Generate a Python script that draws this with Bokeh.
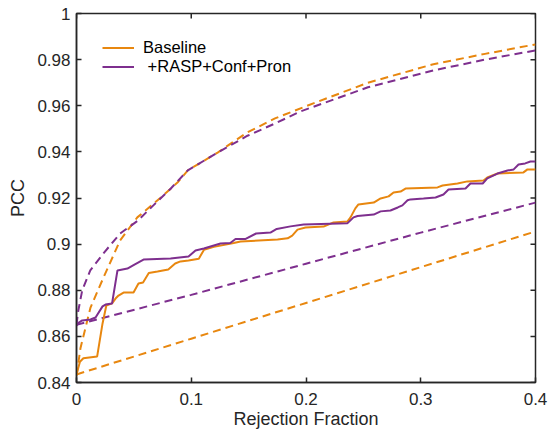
import math
from bokeh.plotting import figure
from bokeh.models import FixedTicker, NumeralTickFormatter, Range1d
from bokeh.embed import file_html
from bokeh.resources import INLINE

# ---- data ----
base_x = [0, 0.003, 0.006, 0.018, 0.0227, 0.026, 0.031, 0.034, 0.0366, 0.041, 0.0497, 0.054,
          0.058, 0.063, 0.0706, 0.080, 0.086, 0.0906, 0.0976, 0.1066, 0.111, 0.1197, 0.137,
          0.143, 0.1752, 0.184, 0.188, 0.1926, 0.1996, 0.2153, 0.224, 0.236, 0.2388, 0.243,
          0.2457, 0.259, 0.265, 0.272, 0.2763, 0.2824, 0.2867, 0.3146, 0.319, 0.332, 0.3407,
          0.3547, 0.358, 0.3669, 0.3895, 0.393, 0.4]
base_y = [0.8435, 0.849, 0.8505, 0.8513, 0.8656, 0.8734, 0.8743, 0.8764, 0.8777, 0.879, 0.879,
          0.8829, 0.8834, 0.8875, 0.8881, 0.889, 0.8916, 0.8925, 0.8929, 0.8937, 0.8975, 0.8988,
          0.9005, 0.9011, 0.902, 0.9025, 0.9037, 0.9063, 0.9072, 0.9076, 0.9094, 0.9098, 0.9116,
          0.9155, 0.9172, 0.918, 0.9198, 0.9207, 0.9224, 0.9228, 0.9241, 0.9246, 0.9254, 0.9263,
          0.9272, 0.9276, 0.9289, 0.9306, 0.9311, 0.9324, 0.9324]

rasp_x = [0, 0.002, 0.005, 0.0122, 0.0166, 0.0227, 0.0253, 0.031, 0.0357, 0.0444, 0.0497, 0.0584,
          0.082, 0.0976, 0.1037, 0.111, 0.1255, 0.134, 0.1386, 0.147, 0.1565, 0.169, 0.1745,
          0.1865, 0.198, 0.236, 0.2414, 0.2449, 0.259, 0.265, 0.2736, 0.28, 0.284, 0.2885,
          0.291, 0.3024, 0.3129, 0.3198, 0.3242, 0.339, 0.3433, 0.354, 0.358, 0.3669, 0.3756,
          0.381, 0.3852, 0.391, 0.3956, 0.4]
rasp_y = [0.8647, 0.866, 0.8669, 0.8673, 0.8682, 0.873, 0.8738, 0.8743, 0.8886, 0.8894, 0.8909,
          0.8933, 0.8938, 0.8946, 0.8972, 0.8981, 0.9003, 0.9005, 0.9022, 0.9022, 0.9046, 0.905,
          0.9066, 0.9077, 0.9085, 0.909, 0.9116, 0.9122, 0.9128, 0.9142, 0.9146, 0.9159, 0.9168,
          0.919, 0.9194, 0.9198, 0.9202, 0.9215, 0.9237, 0.9241, 0.9263, 0.9263, 0.9285, 0.9306,
          0.9319, 0.9324, 0.9345, 0.935, 0.9358, 0.9358]

base_oracle_x = [0, 0.0035, 0.0122, 0.0235, 0.038, 0.053, 0.073, 0.088, 0.097, 0.123, 0.149,
                 0.173, 0.201, 0.254, 0.311, 0.356, 0.4]
base_oracle_y = [0.843, 0.855, 0.8725, 0.8855, 0.9016, 0.9116, 0.920, 0.9267, 0.932, 0.9397,
                 0.9485, 0.9545, 0.960, 0.970, 0.978, 0.9825, 0.9866]

rasp_oracle_x = [0, 0.0015, 0.005, 0.012, 0.0235, 0.038, 0.053, 0.067, 0.082, 0.097, 0.123,
                 0.149, 0.173, 0.195, 0.254, 0.311, 0.356, 0.4]
rasp_oracle_y = [0.865, 0.871, 0.880, 0.8886, 0.896, 0.9046, 0.910, 0.9168, 0.924, 0.932, 0.9397,
                 0.947, 0.9523, 0.9575, 0.968, 0.9753, 0.980, 0.984]

base_random_x = [0, 0.1, 0.2, 0.3, 0.4]
base_random_y = [0.8435, 0.859, 0.8745, 0.890, 0.9055]
rasp_random_x = [0, 0.1, 0.2, 0.3, 0.4]
rasp_random_y = [0.865, 0.878, 0.8915, 0.905, 0.918]

x_ticks = [0, 0.1, 0.2, 0.3, 0.4]
y_ticks = [0.84, 0.86, 0.88, 0.9, 0.92, 0.94, 0.96, 0.98, 1.0]
x_min, x_max = 0, 0.4
y_min, y_max = 0.84, 1.0

ORANGE = "#E8870F"
PURPLE = "#7E2F8E"
AX = "#262626"
FONT = "Liberation Sans"

p = figure(width=550, height=432, x_range=Range1d(x_min, x_max), y_range=Range1d(y_min, y_max),
           output_backend="svg", toolbar_location=None,
           min_border_left=76, min_border_right=15, min_border_top=13, min_border_bottom=50,
           x_axis_label="Rejection Fraction", y_axis_label="PCC")
p.grid.visible = False
p.background_fill_color = "white"
p.border_fill_color = "white"
p.outline_line_color = AX
p.outline_line_width = 1.5

for ax, ticks in ((p.xaxis[0], x_ticks), (p.yaxis[0], y_ticks)):
    ax.ticker = FixedTicker(ticks=ticks)
    ax.formatter = NumeralTickFormatter(format="0.[00]")
    ax.major_tick_in = 5
    ax.major_tick_out = 0
    ax.minor_tick_line_color = None
    ax.major_tick_line_color = AX
    ax.major_tick_line_width = 1.5
    ax.axis_line_color = AX
    ax.axis_line_width = 1.5
    ax.major_label_text_font = FONT
    ax.major_label_text_font_size = "17px"
    ax.major_label_text_color = AX
    ax.axis_label_text_font = FONT
    ax.axis_label_text_font_size = "18px"
    ax.axis_label_text_font_style = "normal"
    ax.axis_label_text_color = AX
p.yaxis[0].major_label_standoff = 6
p.yaxis[0].axis_label_standoff = 6
p.xaxis[0].major_label_standoff = 10
p.xaxis[0].axis_label_standoff = 1

# mirrored inward ticks on the top and right edges of the box
p.scatter(x_ticks, [y_max] * len(x_ticks), marker="dash", angle=math.pi / 2, size=10,
          line_color=AX, line_width=1.5)
p.scatter([x_max] * len(y_ticks), y_ticks, marker="dash", size=10,
          line_color=AX, line_width=1.5)

# dashed curves
p.line(base_oracle_x, base_oracle_y, line_color=ORANGE, line_width=2, line_dash="8 5")
p.line(rasp_oracle_x, rasp_oracle_y, line_color=PURPLE, line_width=2, line_dash="8 5")
p.line(base_random_x, base_random_y, line_color=ORANGE, line_width=2, line_dash="8 5")
p.line(rasp_random_x, rasp_random_y, line_color=PURPLE, line_width=2, line_dash="8 5")

# solid curves
p.line(base_x, base_y, line_color=ORANGE, line_width=2, legend_label="Baseline")
p.line(rasp_x, rasp_y, line_color=PURPLE, line_width=2, legend_label=" +RASP+Conf+Pron")

lg = p.legend[0]
lg.location = (26, 306)
lg.glyph_width = 32
lg.glyph_height = 19
lg.label_height = 19
lg.label_standoff = 9
lg.spacing = 0
lg.padding = 0
lg.margin = 0
lg.border_line_alpha = 0
lg.background_fill_alpha = 0
lg.label_text_font = FONT
lg.label_text_font_size = "16.5px"
lg.label_text_color = "black"

open("out.html", "w").write(file_html(p, INLINE))
